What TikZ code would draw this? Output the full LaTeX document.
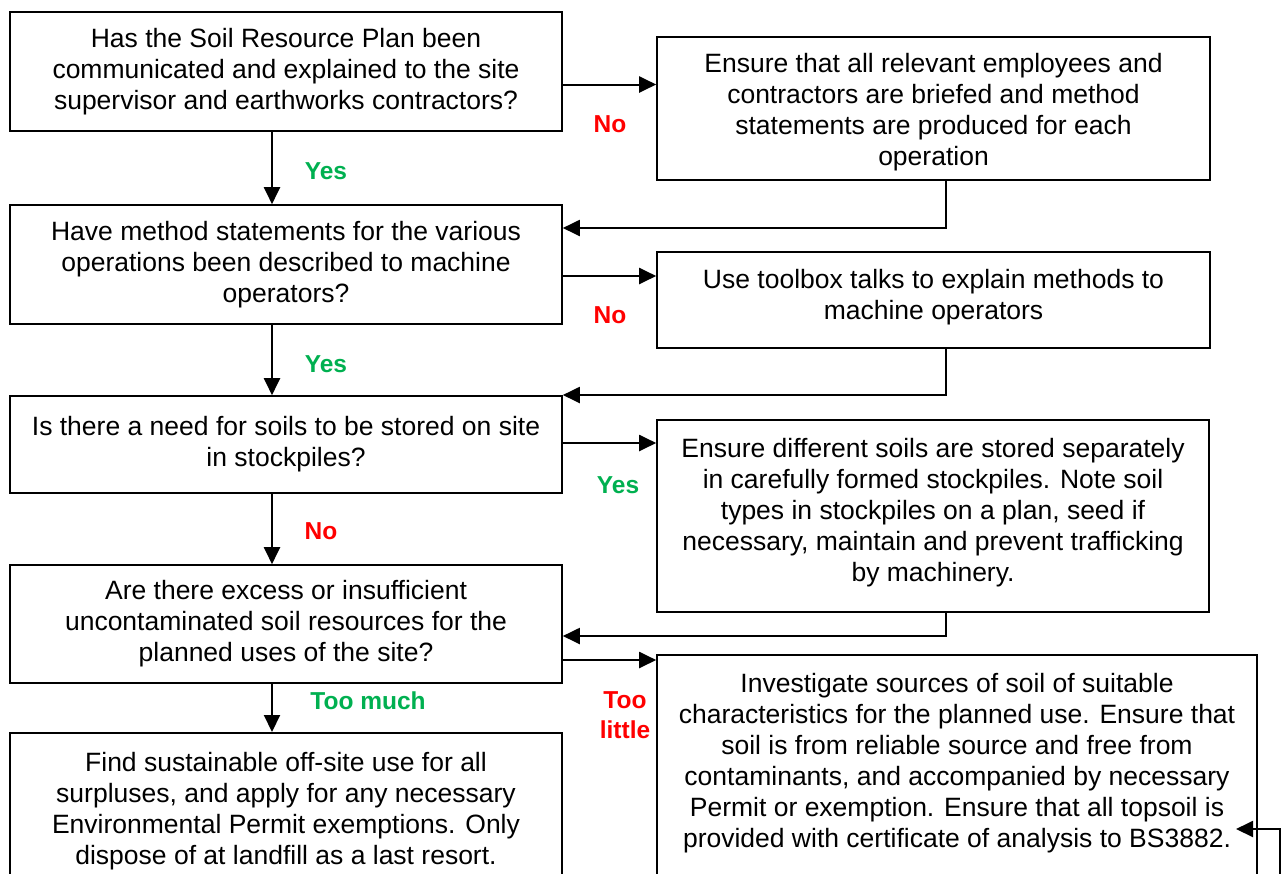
\documentclass[tikz,border=0pt]{standalone}
\usepackage{fontspec}
\setmainfont{Liberation Sans}
\usetikzlibrary{arrows.meta}
\definecolor{yesgreen}{RGB}{0,176,80}

\begin{document}
\begin{tikzpicture}[x=1pt, y=-1pt,
  box/.style={draw, line width=1.6pt, rectangle, align=center, inner sep=0pt,
    font=\fontsize{26.5}{31}\selectfont},
  openbox/.style={box, anchor=north, inner ysep=19pt},
  flow/.style={->, >={Triangle[length=17pt,width=16pt]}, line width=2pt},
  yes/.style={font=\fontsize{24.5}{30}\selectfont\bfseries, text=yesgreen, align=center},
  no/.style={font=\fontsize{24.5}{30}\selectfont\bfseries, text=red, align=center}]

\useasboundingbox (0,0) rectangle (1284,873);
\clip (0,0) rectangle (1284,873);

\def \lw {552pt}
\def \rw {553pt}
\def \tail {\rule{0pt}{150pt}}

% questions on the left
\node[box, minimum width=\lw, minimum height=119pt] (L1) at (286,71.5)
  {Has the Soil Resource Plan been\\communicated and explained to the site\\supervisor and earthworks contractors?};
\node[box, minimum width=\lw, minimum height=119pt] (L2) at (286,264.5)
  {Have method statements for the various\\operations been described to machine\\operators?};
\node[box, minimum width=\lw, minimum height=97pt] (L3) at (286,444.5)
  {Is there a need for soils to be stored on site\\in stockpiles?};
\node[box, minimum width=\lw, minimum height=118pt] (L4) at (286,624)
  {Are there excess or insufficient\\uncontaminated soil resources for the\\planned uses of the site?};
\node[openbox, minimum width=\lw] (L5) at (286,732)
  {Find sustainable off-site use for all\\surpluses, and apply for any necessary\\Environmental Permit exemptions. Only\\dispose of at landfill as a last resort.\\\tail};

% actions on the right
\node[box, minimum width=\rw, minimum height=143pt] (R1) at (933.5,108.5)
  {\rule{0pt}{26pt}Ensure that all relevant employees and\\contractors are briefed and method\\statements are produced for each\\operation};
\node[box, minimum width=\rw, minimum height=96pt] (R2) at (933.5,300)
  {Use toolbox talks to explain methods to\\machine operators\rule[-11.6pt]{0pt}{0pt}};
\node[box, minimum width=552pt, minimum height=192pt] (R3) at (933,516)
  {Ensure different soils are stored separately\\in carefully formed stockpiles. Note soil\\types in stockpiles on a plan, seed if\\necessary, maintain and prevent trafficking\\by machinery.\rule[-12.6pt]{0pt}{0pt}};
\node[openbox, minimum width=600pt, inner ysep=18pt] (R4) at (957,654)
  {Investigate sources of soil of suitable\\characteristics for the planned use. Ensure that\\soil is from reliable source and free from\\contaminants, and accompanied by necessary\\Permit or exemption. Ensure that all topsoil is\\provided with certificate of analysis to BS3882.\\\tail};

% main line
\foreach \a/\b in {L1/L2, L2/L3, L3/L4, L4/L5}
  \draw[flow] ([xshift=-14pt]\a.south) -- ([xshift=-14pt]\b.north);

% branches out
\draw[flow] ([yshift=-13pt]L1.east) -- ([yshift=-13pt]L1.east -| R1.west);
\draw[flow] ([yshift=-11.5pt]L2.east) -- ([yshift=-11.5pt]L2.east -| R2.west);
\draw[flow] ([yshift=1.5pt]L3.east) -- ([yshift=1.5pt]L3.east -| R3.west);
\draw[flow] ([yshift=-36pt]L4.east) -- ([yshift=-36pt]L4.east -| R4.west);

% back into the main line
\draw[flow] ([xshift=12.5pt]R1.south) |- ([yshift=36.5pt]L2.east);
\draw[flow] ([xshift=12.5pt]R2.south) |- ([yshift=49.5pt]L3.east);
\draw[flow] ([xshift=13pt]R3.south) |- ([yshift=-12pt]L4.east);

\coordinate (from) at (1280,900);
\coordinate (into) at (1236,829);
\draw[flow] (from) |- (into);

% answers
\node[no] (n1) at (610,124) {No};
\node[yes] (y1) at (326,171) {Yes};
\node[no] (n2) at (610,315) {No};
\node[yes] (y2) at (326,364) {Yes};
\node[yes] (y3) at (618,485) {Yes};
\node[no] (n3) at (321,531) {No};
\node[yes] (y4) at (368,701) {Too much};
\node[no] (n4) at (625,715) {Too\\little};

\end{tikzpicture}
\end{document}
